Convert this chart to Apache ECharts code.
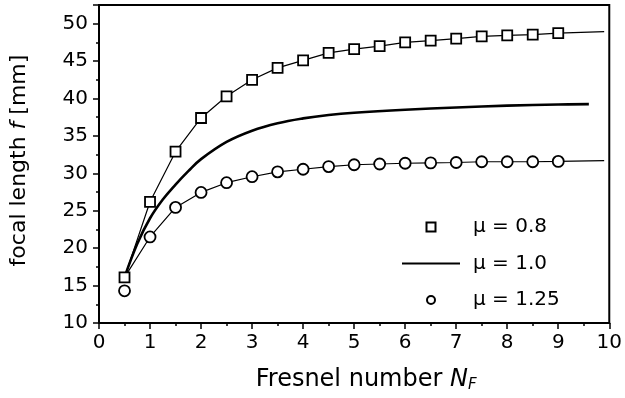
<!DOCTYPE html>
<html>
<head>
<meta charset="utf-8">
<script src="https://cdn.jsdelivr.net/npm/echarts@6/dist/echarts.min.js"></script>
<style>html,body{margin:0;padding:0;background:#fff;}#c{width:625px;height:398px;}</style>
</head>
<body>
<div id="c"></div>
<script>
// mu = 0.8 (squares)
const nF = [0.5,1,1.5,2,2.5,3,3.5,4,4.5,5,5.5,6,6.5,7,7.5,8,8.5,9];
const f08 = [16.1,26.2,32.9,37.4,40.3,42.5,44.1,45.1,46.1,46.6,47.0,47.5,47.75,48.0,48.3,48.45,48.55,48.75];
const f08End = [9.9, 48.95];
// mu = 1.25 (circles)
const f125 = [14.3,21.5,25.45,27.45,28.75,29.55,30.2,30.55,30.9,31.15,31.25,31.35,31.4,31.45,31.55,31.55,31.55,31.6];
const f125Start = [0.5, 16.1];
const f125End = [9.9, 31.7];
// mu = 1.0 (solid curve)
const nF10 = [0.5,0.75,1,1.25,1.5,1.75,2,2.5,3,3.5,4,4.5,5,6,7,8,9,9.6];
const f10 = [16.1,20.6,24.0,26.5,28.5,30.3,31.9,34.2,35.7,36.7,37.35,37.8,38.1,38.5,38.8,39.05,39.2,39.25];

const names = ['\u03bc = 0.8','\u03bc = 1.0','\u03bc = 1.25'];
const FONT = 'DejaVu Sans';

const sq = nF.map((x,i)=>[x,f08[i]]);
const sqLine = sq.concat([f08End]);
const ci = nF.map((x,i)=>[x,f125[i]]);
const ciLine = [f125Start].concat(ci.slice(1)).concat([f125End]);
const mid = nF10.map((x,i)=>[x,f10[i]]);

const chart = echarts.init(document.getElementById('c'));
chart.setOption({
  animation:false,
  backgroundColor:'#fff',
  grid:{left:98,right:13,top:5,bottom:75,show:true,borderColor:'#000',borderWidth:2},
  xAxis:{
    type:'value',min:0,max:10,interval:1,
    axisLine:{lineStyle:{color:'#000',width:2}},
    axisTick:{inside:false,length:6,lineStyle:{color:'#000',width:1.5}},
    minorTick:{show:true,splitNumber:2,length:3,lineStyle:{color:'#000',width:1.5}},
    splitLine:{show:false},
    axisLabel:{color:'#000',fontFamily:FONT,fontSize:20,margin:10},
    name:'{a|Fresnel number }{i|N}{s|F}',
    nameLocation:'middle',nameGap:44,
    nameTextStyle:{padding:[0,0,0,24],rich:{
      a:{fontFamily:FONT,fontSize:24,color:'#000'},
      i:{fontFamily:FONT,fontSize:24,fontStyle:'italic',color:'#000'},
      s:{fontFamily:FONT,fontSize:15,fontStyle:'italic',color:'#000',padding:[11,0,0,0]}
    }}
  },
  yAxis:{
    type:'value',min:10,max:52.5,interval:5,
    axisLine:{lineStyle:{color:'#000',width:2}},
    axisTick:{inside:false,length:6,lineStyle:{color:'#000',width:1.5}},
    minorTick:{show:true,splitNumber:2,length:3,lineStyle:{color:'#000',width:1.5}},
    splitLine:{show:false},
    axisLabel:{color:'#000',fontFamily:FONT,fontSize:20,margin:11,
      formatter:v=> (v%5===0 && v<=50) ? String(v) : ''},
    name:'{a|focal length }{i|f}{a| [mm]}',
    nameLocation:'middle',nameGap:69,
    nameTextStyle:{padding:[0,0,0,7],rich:{
      a:{fontFamily:FONT,fontSize:22,color:'#000'},
      i:{fontFamily:FONT,fontSize:22,fontStyle:'italic',color:'#000'}
    }}
  },
  legend:{
    orient:'vertical',left:396,top:212,itemWidth:58,itemHeight:9,itemGap:16.5,
    textStyle:{fontFamily:FONT,fontSize:20,color:'#000',padding:[0,0,0,8]},
    data:[
      {name:names[0],icon:'path://M0,4.5L0,4.5M24.5,0L33.5,0L33.5,9L24.5,9ZM58,4.5L58,4.5'},
      {name:names[1],icon:'path://M0,0L58,0L58,2L0,2Z'},
      {name:names[2],icon:'path://M0,4.5L0,4.5M25,4.5A4,4 0 1,0 33,4.5A4,4 0 1,0 25,4.5ZM58,4.5L58,4.5M29,0.5L29,0.5M29,8.5L29,8.5'}
    ]
  },
  series:[
    {type:'line',name:'l08',data:sqLine,showSymbol:false,symbol:'none',lineStyle:{color:'#000',width:1.2},z:2,silent:true},
    {type:'line',name:'l125',data:ciLine,showSymbol:false,symbol:'none',lineStyle:{color:'#000',width:1.2},z:2,silent:true},
    {type:'line',name:names[1],data:mid,smooth:0.4,showSymbol:false,symbol:'none',color:'#000',
      itemStyle:{color:'#000'},lineStyle:{color:'#000',width:2.6},z:2},
    {type:'scatter',name:names[0],data:sq,symbol:'rect',symbolSize:10,z:5,
      itemStyle:{color:'#fff',borderColor:'#000',borderWidth:1.8,opacity:1}},
    {type:'scatter',name:names[2],data:ci,symbol:'circle',symbolSize:11,z:5,
      itemStyle:{color:'#fff',borderColor:'#000',borderWidth:1.8,opacity:1}}
  ]
});
</script>
</body>
</html>
